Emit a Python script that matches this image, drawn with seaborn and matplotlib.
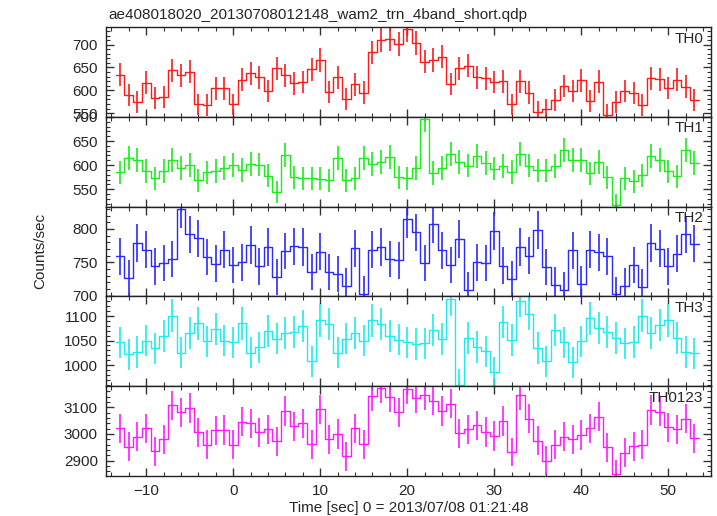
import numpy as np
import pandas as pd
import matplotlib
matplotlib.use('Agg')
import matplotlib.pyplot as plt
import seaborn as sns
from matplotlib.ticker import MultipleLocator

# bin centres [sec], 1 s bins
time_sec = np.arange(-13, 54)

# count rates, one list per band
th0 = [634, 589, 574, 617, 584, 586, 644, 633, 641, 569, 567, 604, 604,
       569, 623, 637, 629, 599, 648, 633, 615, 618, 646, 666, 596, 629, 580, 613, 595, 683, 711, 713, 701, 734,
       703, 663, 666, 674, 614, 648, 654, 629, 626, 618, 620, 569, 620, 595, 552, 558, 579, 609, 598, 622, 577,
       619, 546, 574, 598, 594, 567, 626, 624, 605, 623, 608, 579]
th1 = [585, 615, 610, 588, 573, 588, 610, 594, 600, 569, 585, 588, 594,
       600, 590, 603, 601, 578, 544, 622, 575, 573, 573, 572, 569, 615, 569, 573, 615, 603, 606, 616, 575, 573,
       594, 696, 584, 594, 624, 606, 599, 619, 605, 593, 598, 586, 623, 599, 589, 589, 598, 631, 610, 610, 583,
       607, 575, 517, 573, 567, 579, 619, 610, 587, 577, 631, 604]
th2 = [759, 727, 779, 769, 744, 749, 755, 830, 792, 786, 758, 748, 769,
       746, 750, 776, 744, 773, 728, 767, 774, 773, 736, 766, 735, 733, 715, 771, 703, 769, 773, 755, 753, 815,
       795, 749, 807, 768, 746, 785, 709, 750, 749, 797, 745, 725, 773, 760, 799, 743, 716, 709, 768, 717, 769,
       765, 759, 702, 715, 746, 713, 779, 770, 744, 763, 792, 778]
th3 = [1046, 1022, 1027, 1050, 1034, 1059, 1101, 1025, 1066, 1085, 1048, 1074, 1050,
       1046, 1085, 1025, 1036, 1069, 1054, 1065, 1067, 1080, 1008, 1091, 1084, 1025, 1054, 1065, 1050, 1091,
       1084, 1059, 1052, 1046,
       1043, 1044, 1071, 1053, 1134, 960, 1056, 1037, 1028, 985, 1088, 1051, 1131, 1105, 1035, 1008, 1071,
       1046, 1006, 1048, 1095, 1075, 1068, 1056, 1044, 1047, 1101, 1066, 1082, 1091, 1056, 1027, 1024]
th0123 = [3021, 2952, 2989, 3021, 2935, 2980, 3107, 3081, 3096, 3006, 2959, 3014, 3015,
          2959, 3046, 3040, 3006, 3017, 2972, 3085, 3029, 3040, 2961, 3092, 2980, 3000, 2916, 3021, 2961, 3142,
          3171, 3139, 3081, 3167,
          3134, 3147, 3125, 3087, 3114, 3002, 3017, 3032, 3007, 2992, 3049, 2932, 3145, 3057, 2975, 2899, 2960,
          2990, 2980, 2996, 3021, 3065, 2950, 2849, 2929, 2954, 2959, 3089, 3084, 3025, 3017, 3057, 2984]

band_names = ['TH0', 'TH1', 'TH2', 'TH3', 'TH0123']
band_rates = [th0, th1, th2, th3, th0123]
band_colors = ['#ff1a1a', '#1aee1a', '#2a2aff', '#1aeeee', '#ff1aff']
y_limits = [(541.9, 738.8), (514, 700.3), (698.9, 833.6), (956.8, 1140), (2842, 3179)]
y_major = [50, 50, 50, 50, 100]
y_minor = [10, 10, 10, 10, 20]

title = 'ae408018020_20130708012148_wam2_trn_4band_short.qdp'
x_label = 'Time [sec] 0 = 2013/07/08 01:21:48'
y_label = 'Counts/sec'


def main():
    sns.set_style('ticks')
    plt.rcParams['font.family'] = ['Liberation Sans', 'DejaVu Sans']
    plt.rcParams['font.size'] = 11

    fig, axes = plt.subplots(5, 1, sharex=True, figsize=(7.17, 5.16), dpi=100)
    fig.subplots_adjust(left=0.148, right=0.9916, top=0.9477, bottom=0.0775, hspace=0)

    edges = list(np.arange(time_sec[0] - 0.5, time_sec[-1] + 1.0, 1.0))
    for ax, name, rates, color, ylim, maj, mnr in zip(axes, band_names, band_rates, band_colors,
                                                     y_limits, y_major, y_minor):
        df = pd.DataFrame({'time': time_sec.astype(float), 'rate': np.asarray(rates, dtype=float)})
        sns.histplot(data=df, x='time', weights='rate', bins=edges, element='step', fill=False,
                     color=color, linewidth=1.0, ax=ax)
        # poisson errors for 1 s bins
        ax.errorbar(df['time'], df['rate'], yerr=np.sqrt(df['rate']), fmt='none', ecolor=color,
                    elinewidth=1.2, capsize=0)
        ax.set_ylim(*ylim)
        ax.set_xlim(-14.6, 54.9)
        ax.set_ylabel('')
        ax.set_xlabel('')
        ax.yaxis.set_major_locator(MultipleLocator(maj))
        ax.yaxis.set_minor_locator(MultipleLocator(mnr))
        ax.xaxis.set_major_locator(MultipleLocator(10))
        ax.xaxis.set_minor_locator(MultipleLocator(2))
        ax.tick_params(which='both', direction='in', top=True, right=True, color='#333333')
        ax.tick_params(which='major', length=6, width=1, pad=6)
        ax.tick_params(which='minor', length=3, width=0.8)
        for spine in ax.spines.values():
            spine.set_visible(True)
            spine.set_color('#222222')
            spine.set_linewidth(1.0)
        ax.text(0.987, 0.948, name, transform=ax.transAxes, ha='right', va='top', fontsize=11)

    axes[-1].set_xlabel(x_label, fontsize=11, labelpad=2)
    fig.text(108 / 717, 1 - 18.5 / 516, title, ha='left', va='baseline', fontsize=11)
    fig.text(40 / 717, 0.513, y_label, rotation=90, ha='center', va='center', fontsize=11)

    fig.savefig('out.png', dpi=100)


if __name__ == '__main__':
    main()
